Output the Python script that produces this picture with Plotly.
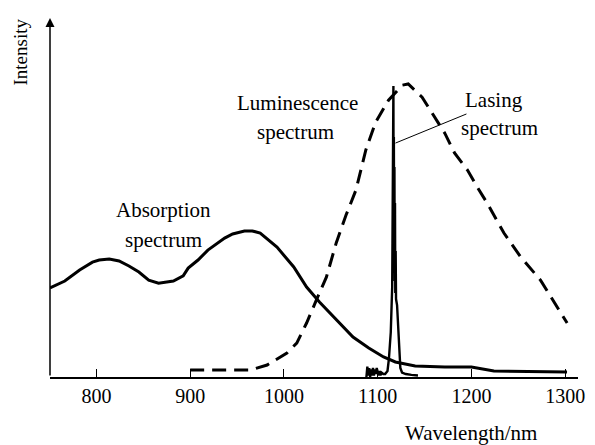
import plotly.graph_objects as go

# Absorption spectrum (solid)
abs_wl = [750.5, 766.3, 782.1, 795.8, 803, 813.7, 824.2, 834.7, 845.3, 855.8, 866.3, 882.1, 892.6,
          897.9, 908.4, 918.9, 936.8, 945.3, 957.9, 966.3, 974.7, 992.6, 1010.5, 1024.2, 1037.9,
          1055.8, 1073.7, 1090.5, 1106.3, 1118.9, 1140, 1171.6, 1200, 1224, 1302]
abs_int = [29.7, 32, 35.7, 38.3, 39, 39.3, 38.7, 37, 35, 32.3, 31.3, 32, 33.7,
           36.3, 39, 42.3, 46.3, 47.7, 48.7, 48.7, 48, 43.3, 36.7, 30, 25,
           19, 13.3, 9.7, 6.7, 5, 3.7, 3.3, 3.3, 2, 1.7]

# Luminescence spectrum (dashed)
lum_wl = [900, 964.2, 982.1, 1003.2, 1013.7, 1024.2, 1034.7, 1045.3, 1055.8, 1066.3, 1076.8,
          1087.4, 1097.9, 1111.6, 1126.3, 1132.6, 1147.4, 1161, 1171.6, 1182, 1195.8, 1206.3,
          1216.8, 1234.7, 1252.6, 1273.7, 1302.1]
lum_int = [2.3, 2.3, 4, 8, 11.3, 18, 25.7, 33.3, 44.7, 54, 62.3,
           75.7, 85, 92.3, 97.3, 97.7, 93.3, 86.7, 81.3, 74.7, 69, 63.3,
           58, 48, 40, 32.3, 18]

# Lasing spectrum (narrow line)
las_wl = [1087, 1088, 1089, 1090, 1091, 1092, 1093, 1094, 1095, 1096, 1097, 1098, 1099, 1101,
          1102, 1103, 1104, 1106, 1108, 1110.5, 1112, 1114, 1115.5, 1115.8, 1116.1, 1116.4, 1116.8,
          1117.0, 1117.3, 1117.6, 1117.9, 1118.2, 1118.5, 1118.8, 1119.2, 1119.6, 1120.7, 1122.5,
          1124.2, 1126, 1130, 1136, 1143]
las_int = [0, 0, 3.5, 0.5, 3, 0, 2.5, 0.5, 3, 0.5, 2.5, 1, 3, 0.5,
           2, 0.5, 1.5, 1, 1, 2, 6, 15, 30, 58, 35, 62, 97,
           55, 80, 42, 70, 32, 58, 28, 42, 26, 24, 10,
           3, 1.5, 1, 0.7, 0.5]

x_ticks = [800, 900, 1000, 1100, 1200, 1300]

FONT = "Liberation Serif"

fig = go.Figure()
fig.add_trace(go.Scatter(x=abs_wl, y=abs_int, mode="lines",
                         line=dict(color="black", width=3), showlegend=False))
fig.add_trace(go.Scatter(x=lum_wl, y=lum_int, mode="lines",
                         line=dict(color="black", width=3, dash="14px,8px"), showlegend=False))
fig.add_trace(go.Scatter(x=las_wl, y=las_int, mode="lines",
                         line=dict(color="black", width=2.4), showlegend=False))

x0, x1 = 750.5, 1313.7
y0, y1 = 0, 119.7

# page body has an 8px margin, so the figure is shrunk by 8px
fig.update_layout(
    width=587, height=437,
    margin=dict(l=42, r=10, t=10, b=68),
    paper_bgcolor="white", plot_bgcolor="white",
    font=dict(family=FONT, size=20, color="black"),
    xaxis=dict(range=[x0, x1], showgrid=False, zeroline=False, showline=True,
               linecolor="black", linewidth=1.5, ticks="inside", ticklen=8,
               tickwidth=1, tickcolor="black", tickvals=x_ticks,
               ticktext=[str(v) for v in x_ticks],
               tickfont=dict(family=FONT, size=20, color="black")),
    yaxis=dict(range=[y0, y1], showgrid=False, zeroline=False, showline=False,
               showticklabels=False, ticks=""),
)

# y axis arrow
fig.add_annotation(x=x0, y=y1, ax=x0, ay=y0, xref="x", yref="y", axref="x", ayref="y",
                   showarrow=True, arrowhead=2, arrowsize=1.2, arrowwidth=1.5,
                   arrowcolor="black", text="")

# leader line for lasing label
fig.add_shape(type="line", x0=1119, y0=78, x1=1194.7, y1=87.7, xref="x", yref="y",
              line=dict(color="black", width=1))

def label(text, x, y):
    fig.add_annotation(x=x, y=y, xref="x", yref="y", text=text, showarrow=False,
                       font=dict(family=FONT, size=21, color="black"),
                       xanchor="center", yanchor="middle")

label("Absorption", 871.6, 55.7)
label("spectrum", 871.6, 45.7)
label("Luminescence", 1014.7, 91.3)
label("spectrum", 1012.6, 81.7)
label("Lasing", 1224.2, 92.3)
label("spectrum", 1229.5, 83)

# axis titles
fig.add_annotation(x=1200, y=-0.155, xref="x", yref="paper", text="Wavelength/nm",
                   showarrow=False, font=dict(family=FONT, size=21, color="black"),
                   xanchor="center", yanchor="middle")
fig.add_annotation(x=-0.056, y=0.905, xref="paper", yref="paper", text="Intensity",
                   textangle=-90, showarrow=False, borderpad=0,
                   font=dict(family=FONT, size=19, color="black"),
                   xanchor="center", yanchor="middle")

fig.write_html("out.html")
